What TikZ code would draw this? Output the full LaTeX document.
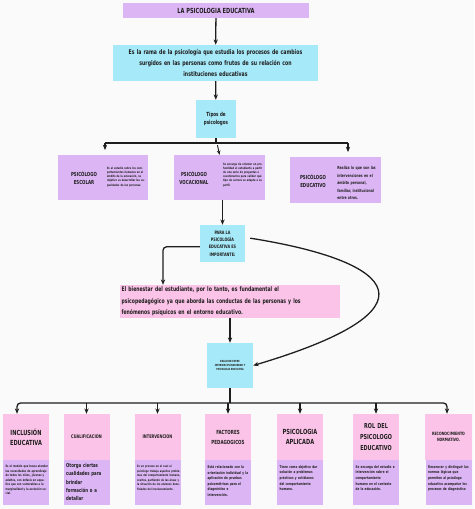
\documentclass[tikz,border=0pt]{standalone}
\usepackage{fontspec}
\setmainfont{DejaVu Sans}[FakeStretch=0.72]
\usetikzlibrary{arrows.meta,positioning,calc}
\definecolor{lilx}{HTML}{DCB6F4}
\definecolor{cyanx}{HTML}{A6E9F8}
\definecolor{pinkx}{HTML}{FBC3E7}
\definecolor{inkx}{HTML}{1E1E1E}
\definecolor{paperx}{HTML}{FAFAFA}
\newcommand{\fsz}[2]{\fontsize{#1}{#2}\selectfont\bfseries}
\tikzset{
  cy/.style={fill=cyanx,inner sep=0pt,align=center,text=inkx},
  lb/.style={fill=lilx,inner sep=0pt,text=inkx},
  pk/.style={fill=pinkx,inner sep=0pt,align=center,text=inkx},
  tx/.style={inner sep=0pt,align=center,text=inkx},
  ds/.style={inner sep=0pt,anchor=north west,align=left,text width=1.3cm,text=inkx},
  ln/.style={line width=1.1pt,inkx},
  ar/.style={-{Stealth[length=1.6mm,width=1.3mm]},line width=1.1pt,inkx}
}

\begin{document}
\begin{tikzpicture}[x=0.03cm,y=-0.03cm]
\fill[paperx] (0,0) rectangle (474,509);
\useasboundingbox (0,0) rectangle (474,509);

% cabecera
\node[lb,minimum width=5.58cm,minimum height=0.45cm,font=\fsz{6}{7}] (tit) at (216,10.5) {LA PSICOLOGIA EDUCATIVA};
\node[cy,minimum width=6.15cm,minimum height=1.08cm,text width=6cm,font=\fsz{5.5}{9}] (def) at (215.5,63) {Es la rama de la psicología que estudia los procesos de cambios\\surgidos en las personas como frutos de su relación con\\instituciones educativas};
\node[cy,minimum width=1.2cm,minimum height=1.14cm,font=\fsz{4.8}{7.5}] (tipos) at (216,119) {Tipos de\\psicologos};
\draw[ar] (tit) -- (def);
\draw[ar] (def) -- (tipos);

% tipos de psicologos
\node[lb,minimum width=2.7cm,minimum height=1.35cm] (esc) at (103,177.5) {};
\node[tx,font=\fsz{4.7}{7}] (esct) at (84,178) {PSICÓLOGO\\ESCOLAR};
\node[tx,font=\fsz{2.6}{3.5},text width=1.2cm,align=left] (escd) at (127,177) {Es el estudio sobre los comportamientos humanos en el ámbito de la educación, su objetivo es desarrollar las capacidades de las personas.};

\node[lb,minimum width=2.73cm,minimum height=1.35cm] (voc) at (219.5,177.5) {};
\node[tx,font=\fsz{4.7}{7}] (voct) at (194,178) {PSICÓLOGO\\VOCACIONAL};
\node[tx,font=\fsz{2.6}{3.5},text width=1.25cm,align=left] (vocd) at (244,175) {Se encarga de orientar en profundidad al estudiante a partir de una serie de preguntas o cuestionarios para validar qué tipo de carrera se adapta a su perfil.};

\node[lb,minimum width=2.73cm,minimum height=1.38cm] (edu) at (335.5,180) {};
\node[tx,font=\fsz{4.7}{7}] (edut) at (313,181) {PSICÓLOGO\\EDUCATIVO};
\node[tx,font=\fsz{3.6}{6.4},text width=1.3cm,align=left] (edud) at (359,183) {Realiza lo que son las\\intervenciones en el\\ámbito personal,\\familiar, institucional\\entre otros.};

\coordinate (tl) at (105,143);
\coordinate (tr) at (348,143);
\draw[ln] (tipos.south) -- (tipos.south |- tl);
\draw[ln] (tl) -- (tr);
\draw[ar,shorten >=4pt] (tl) -- (tl |- esc.north);
\draw[ar,shorten >=4pt] (tr) -- (tr |- edu.north);
\draw[-{Stealth[length=1.3mm,width=1.1mm]},thick,inkx,shorten <=6pt] (tipos.south) -- (voc.north);

% importancia
\node[cy,minimum width=1.35cm,minimum height=1.11cm,font=\fsz{4}{6.2}] (para) at (222.5,243.5) {PARA LA\\PSICOLOGÍA\\EDUCATIVA ES\\IMPORTANTE:};
\draw[ar] (voc.south -| para.north) -- (para.north);

\node[pk,minimum width=6.6cm,minimum height=0.99cm,text width=6.5cm,align=left,font=\fsz{5.4}{10}] (pink) at (230,301.5) {El bienestar del estudiante, por lo tanto, es fundamental el\\psicopedagógico ya que aborda las conductas de las personas y los\\fenómenos psíquicos en el entorno educativo.};
\draw[ar,rounded corners=3pt] ([yshift=-0.1cm]para.west) -| ([xshift=-2.01cm]pink.north);

\node[cy,minimum width=1.38cm,minimum height=1.35cm,font=\fsz{2.4}{3.6}] (rel) at (230,365.5) {RELACION ENTRE\\INTERDISCIPLINARIEDAD Y\\PSICOLOGIA EDUCATIVA};
\draw[ar] (pink.south) -- (rel.north);
\draw[ar] ([shift={(0.15cm,0.16cm)}]para.east) .. controls (400,262) and (440,310) .. (rel.east);

% aportes
\node[pk,minimum width=1.38cm,minimum height=1.38cm,text width=1.3cm,font=\fsz{6}{8.5}] (b1) at (26,437) {INCLUSIÓN\\EDUCATIVA};
\node[pk,minimum width=1.38cm,minimum height=1.38cm,text width=1.3cm,font=\fsz{4.2}{6}] (b2) at (86.5,437) {CUALIFICACION};
\node[pk,minimum width=1.38cm,minimum height=1.38cm,text width=1.3cm,font=\fsz{4.2}{6}] (b3) at (157.5,437) {INTERVENCION};
\node[pk,minimum width=1.38cm,minimum height=1.38cm,text width=1.3cm,font=\fsz{4.8}{8.5}] (b4) at (228,437) {FACTORES\\PEDAGOGICOS};
\node[pk,minimum width=1.38cm,minimum height=1.38cm,text width=1.3cm,font=\fsz{6}{9}] (b5) at (300,437) {PSICOLOGIA\\APLICADA};
\node[pk,minimum width=1.38cm,minimum height=1.38cm,text width=1.3cm,font=\fsz{5.8}{9}] (b6) at (376,437) {ROL DEL\\PSICOLOGO\\EDUCATIVO};
\node[pk,minimum width=1.41cm,minimum height=1.38cm,text width=1.3cm,font=\fsz{3.8}{5.6}] (b7) at (448.5,437) {RECONOCIMIENTO\\NORMATIVO.};

\foreach \n in {1,...,7}
  \node[lb,minimum width=1.38cm,minimum height=1.35cm,below=0pt of b\n] (d\n) {};

\node[ds,font=\fsz{2.7}{3.8}] at ([shift={(0.08cm,-0.15cm)}]d1.north west) {Es el modelo que busca atender las necesidades de aprendizaje de todos los niños, jóvenes y adultos, con énfasis en aquellos que son vulnerables a la marginalidad y la exclusión social.};
\node[ds,font=\fsz{4.6}{6.9}] at ([shift={(0.08cm,-0.1cm)}]d2.north west) {Otorga ciertas\\cualidades para\\brindar\\formación o a\\detallar};
\node[ds,font=\fsz{2.6}{3.8}] at ([shift={(0.08cm,-0.15cm)}]d3.north west) {Es un proceso en el cual el psicólogo trabaja aquellos problemas del comportamiento humano, ocultos, partiendo de las áreas y la situación de los alumnos beneficiados del involucramiento.};
\node[ds,font=\fsz{3.2}{4.8}] at ([shift={(0.08cm,-0.15cm)}]d4.north west) {Está relacionado con la\\orientación individual y la\\aplicación de pruebas\\psicométricas para el\\diagnóstico e\\intervención.};
\node[ds,font=\fsz{3.2}{4.8}] at ([shift={(0.08cm,-0.15cm)}]d5.north west) {Tiene como objetivo dar\\solución a problemas\\prácticos y cotidianos\\del comportamiento\\humano.};
\node[ds,font=\fsz{3.2}{4.8}] at ([shift={(0.08cm,-0.15cm)}]d6.north west) {Se encarga del estudio e\\intervención sobre el\\comportamiento\\humano en el contexto\\de la educación.};
\node[ds,font=\fsz{3.2}{4.8}] at ([shift={(0.08cm,-0.15cm)}]d7.north west) {Reconocer y distinguir las\\normas lógicas que\\permiten al psicólogo\\educativo acompañar los\\procesos de diagnóstico};

\coordinate (bl) at (17,403);
\coordinate (br) at (447,403);
\draw[ln] (rel.south) -- (rel.south |- bl);
\draw[ar,rounded corners=3pt] (rel.south |- bl) -| ([xshift=-0.27cm]b1.north);
\draw[ar,rounded corners=3pt] (rel.south |- bl) -| (br |- b7.north);
\foreach \n in {2,...,6}
  \draw[ar] (b\n.north |- bl) -- (b\n.north);
\end{tikzpicture}
\end{document}
